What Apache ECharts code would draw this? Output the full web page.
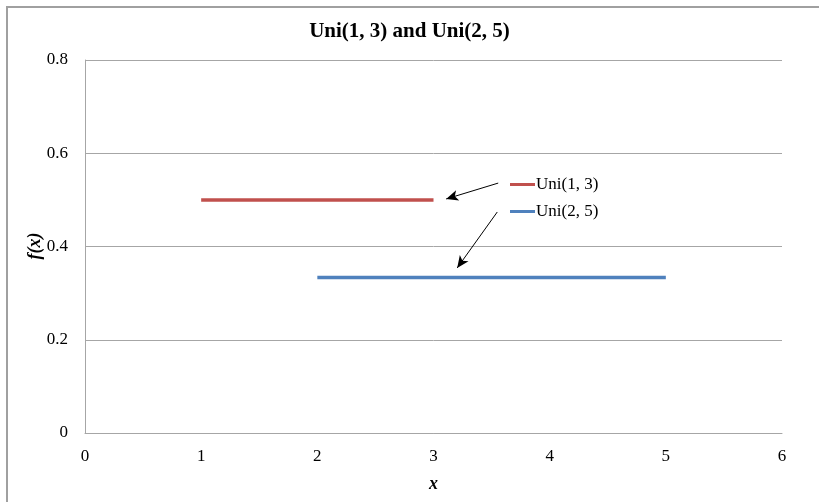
<!DOCTYPE html>
<html>
<head>
<meta charset="utf-8">
<script src="https://cdn.jsdelivr.net/npm/echarts@6/dist/echarts.min.js"></script>
<style>html,body{margin:0;padding:0;background:#fff}#c{width:819px;height:502px}</style>
</head>
<body>
<div id="c"></div>
<script>
// Data
const titleText = 'Uni(1, 3) and Uni(2, 5)';
const seriesNames = ['Uni(1, 3)', 'Uni(2, 5)'];
const yAxisTitle = 'f(x)';
const uni13 = [[1, 0.5], [3, 0.5]];
const uni25 = [[2, 1/3], [5, 1/3]];
const xTicks = [0, 1, 2, 3, 4, 5, 6];
const yTicks = [0, 0.2, 0.4, 0.6, 0.8];
// annotation arrows (data coordinates): [from, to]
const arrows = [
  [[3.557, 0.536], [3.109, 0.502]],
  [[3.549, 0.474], [3.204, 0.354]]
];

const serif = '"Liberation Serif", "DejaVu Serif", serif';
const chart = echarts.init(document.getElementById('c'));
chart.setOption({
  animation: false,
  backgroundColor: '#fff',
  title: {
    text: titleText, left: 'center', top: 16,
    textStyle: {fontFamily: serif, fontWeight: 'bold', fontSize: 21, color: '#000'}
  },
  grid: {left: 85, right: 37, top: 60, bottom: 69, containLabel: false},
  legend: {
    orient: 'vertical', left: 505, top: 171,
    icon: 'rect', itemWidth: 25, itemHeight: 3, itemGap: 10,
    textStyle: {fontFamily: serif, fontSize: 17, color: '#000', padding: [0, 0, 0, -4]},
    data: seriesNames
  },
  xAxis: {
    type: 'value', min: xTicks[0], max: xTicks[xTicks.length - 1], interval: 1,
    name: 'x', nameLocation: 'middle', nameGap: 42,
    nameTextStyle: {fontFamily: serif, fontSize: 18, fontWeight: 'bold', fontStyle: 'italic', color: '#000'},
    axisLine: {show: true, lineStyle: {color: '#a6a6a6', width: 1}},
    axisTick: {show: false},
    axisLabel: {fontFamily: serif, fontSize: 17, color: '#000', margin: 15},
    splitLine: {show: false}
  },
  yAxis: {
    type: 'value', min: yTicks[0], max: yTicks[yTicks.length - 1], interval: 0.2,
    axisLine: {show: true, lineStyle: {color: '#a6a6a6', width: 1}},
    axisTick: {show: false},
    axisLabel: {fontFamily: serif, fontSize: 17, color: '#000', margin: 17},
    splitLine: {show: true, lineStyle: {color: '#a6a6a6', width: 1}}
  },
  series: [
    {name: seriesNames[0], type: 'line', data: uni13, symbol: 'none',
     itemStyle: {color: '#c0504d'}, lineStyle: {color: '#c0504d', width: 3.5}},
    {name: seriesNames[1], type: 'line', data: uni25, symbol: 'none',
     itemStyle: {color: '#4f81bd'}, lineStyle: {color: '#4f81bd', width: 3.5}},
    {type: 'line', data: [], silent: true,
     markLine: {
       silent: true, symbol: ['none', 'arrow'], symbolSize: [8, 12],
       label: {show: false},
       lineStyle: {color: '#000', width: 1, type: 'solid'},
       data: arrows.map(a => [{coord: a[0]}, {coord: a[1]}])
     }}
  ],
  graphic: [
    {type: 'polyline', shape: {points: [[7, 502], [7, 7], [819, 7]]},
     style: {stroke: '#a0a0a0', lineWidth: 2, fill: null}, silent: true},
    {type: 'text', x: 35, y: 246, rotation: Math.PI / 2, silent: true,
     style: {text: yAxisTitle, align: 'center', verticalAlign: 'middle', fill: '#000',
       font: 'italic bold 18px ' + serif}}
  ]
});
</script>
</body>
</html>
